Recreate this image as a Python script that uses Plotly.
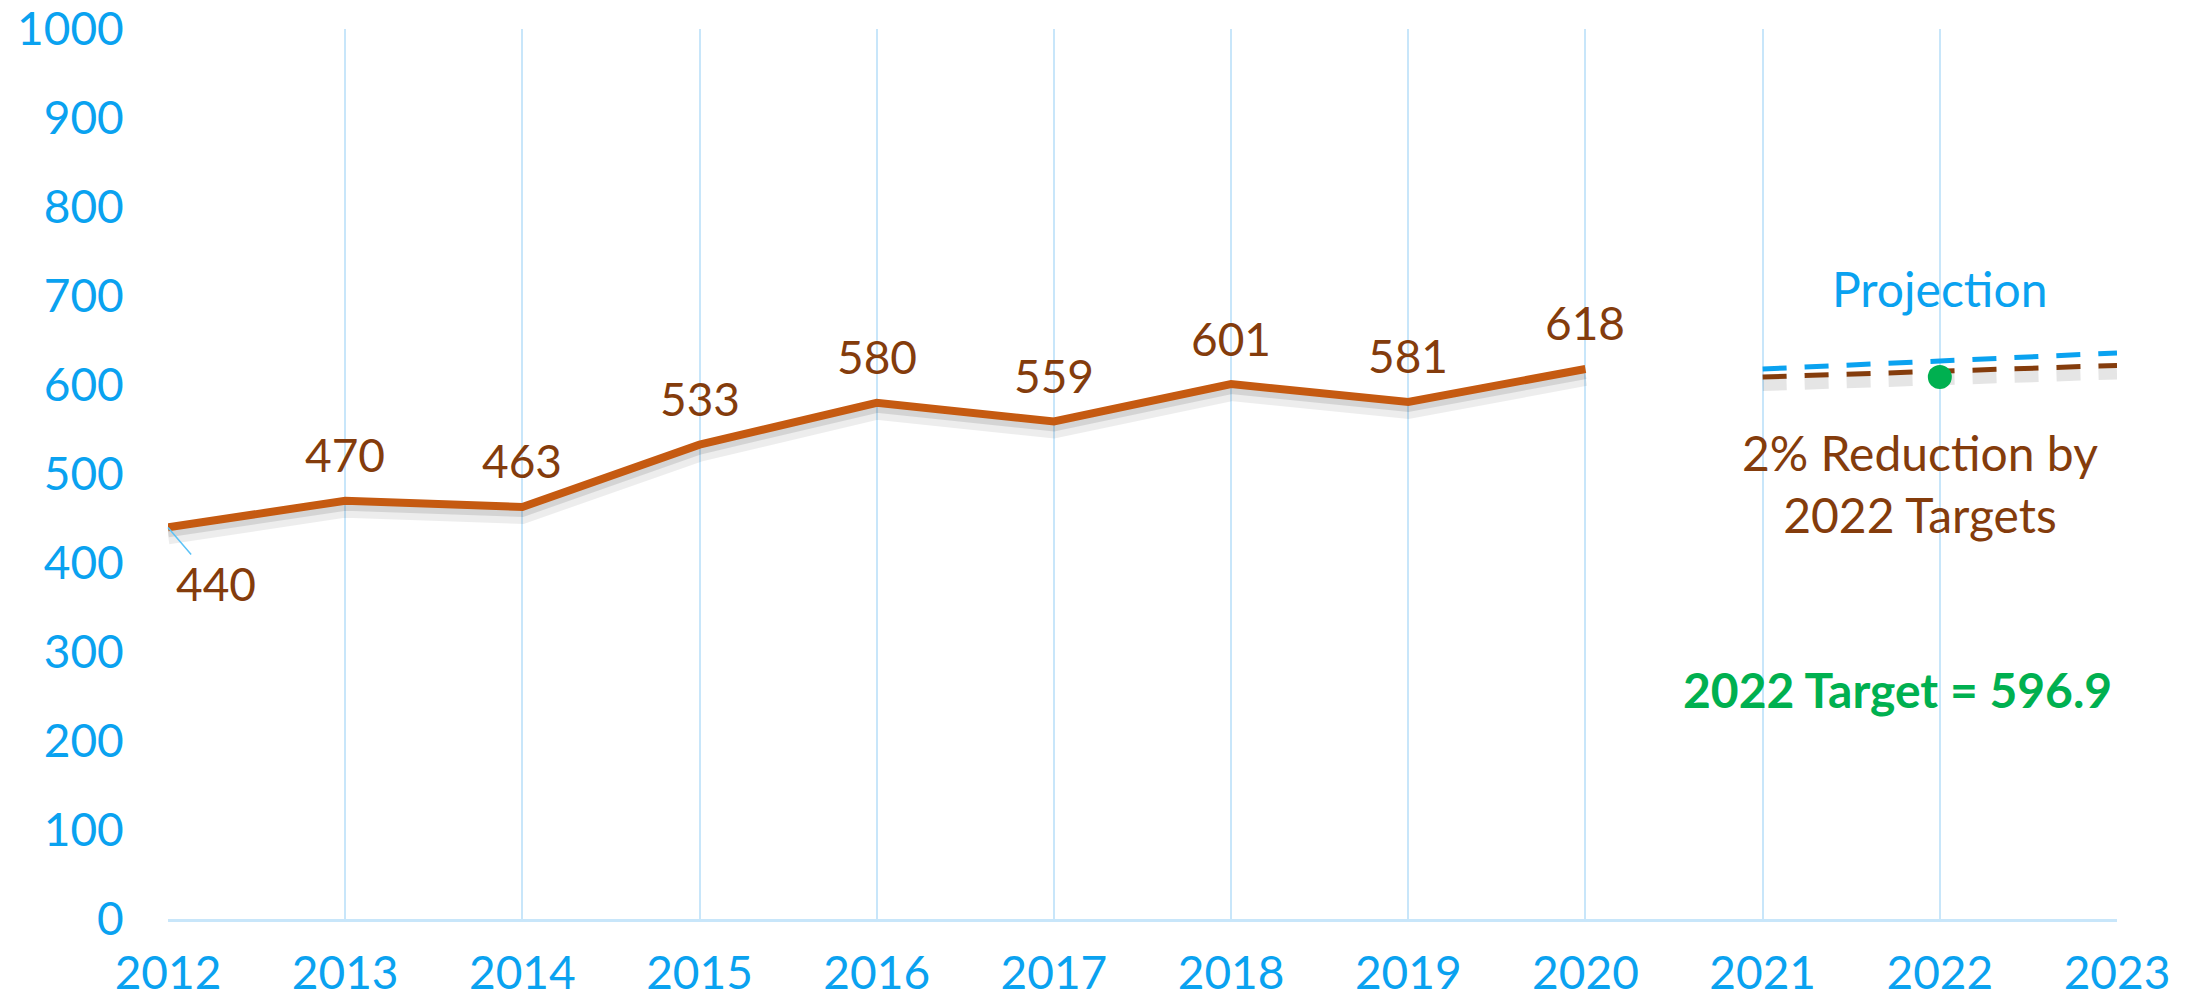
import plotly.graph_objects as go

years = [2012, 2013, 2014, 2015, 2016, 2017, 2018, 2019, 2020]
values = [440, 470, 463, 533, 580, 559, 601, 581, 618]
proj_years = [2021, 2022, 2023]
projection = [618, 627, 636]
reduction = [609, 615, 622]
target_year = [2022]
target_value = [609]
x_ticks = list(range(2012, 2024))
y_ticks = list(range(0, 1001, 100))

BLUE = "#0AA2F0"
ORANGE = "#C55A11"
BROWN = "#843C0C"
GREEN = "#00B050"
GRID = "#C8E6FA"
FONT = "Lato"

fig = go.Figure()

# soft shadows
shadow_off = 9
fig.add_trace(go.Scatter(x=years, y=[v - shadow_off for v in values], mode="lines",
                         line=dict(color="rgba(0,0,0,0.07)", width=18), hoverinfo="skip", showlegend=False))
fig.add_trace(go.Scatter(x=years, y=[v - shadow_off / 2 for v in values], mode="lines",
                         line=dict(color="rgba(0,0,0,0.10)", width=12), hoverinfo="skip", showlegend=False))
fig.add_trace(go.Scatter(x=proj_years, y=[v - shadow_off for v in reduction], mode="lines",
                         line=dict(color="rgba(0,0,0,0.10)", width=12, dash="24px,18px"),
                         hoverinfo="skip", showlegend=False))

fig.add_trace(go.Scatter(x=years, y=values, mode="lines",
                         line=dict(color=ORANGE, width=8), showlegend=False))
fig.add_trace(go.Scatter(x=proj_years, y=projection, mode="lines",
                         line=dict(color=BLUE, width=5, dash="24px,18px"), showlegend=False))
fig.add_trace(go.Scatter(x=proj_years, y=reduction, mode="lines",
                         line=dict(color=BROWN, width=5, dash="24px,18px"), showlegend=False))
fig.add_trace(go.Scatter(x=target_year, y=target_value, mode="markers",
                         marker=dict(color=GREEN, size=24), showlegend=False))

# data labels
for i, (x, v) in enumerate(zip(years, values)):
    if i == 0:
        fig.add_annotation(x=x, y=v, text=str(v), showarrow=True, arrowhead=0,
                           arrowcolor="#5BC2F7", arrowwidth=1.5, ax=48, ay=56, standoff=0,
                           font=dict(family=FONT, size=46, color=BROWN))
    else:
        fig.add_annotation(x=x, y=v, text=str(v), showarrow=False, yshift=46,
                           font=dict(family=FONT, size=46, color=BROWN))

fig.add_annotation(x=2022, y=708, text="Projection", showarrow=False,
                   font=dict(family=FONT, size=48, color=BLUE))
fig.add_annotation(x=2021.89, y=489, text="2% Reduction by<br>2022 Targets", showarrow=False,
                   font=dict(family=FONT, size=48, color=BROWN))
fig.add_annotation(x=2021.76, y=258, text="<b>2022 Target = 596.9</b>", showarrow=False,
                   font=dict(family=FONT, size=48, color=GREEN))

fig.update_layout(
    width=2196, height=1001,
    margin=dict(l=168, r=79, t=29, b=82, autoexpand=False),
    plot_bgcolor="white", paper_bgcolor="white",
    font=dict(family=FONT, size=46, color=BLUE),
    xaxis=dict(range=[2012, 2023], tickvals=x_ticks, ticktext=[str(t) for t in x_ticks],
               showgrid=True, gridcolor=GRID, gridwidth=2, zeroline=False,
               showline=True, linecolor=GRID, linewidth=3, automargin=False,
               ticks="outside", ticklen=12, tickcolor="rgba(0,0,0,0)",
               tickfont=dict(family=FONT, size=46, color=BLUE)),
    yaxis=dict(range=[0, 1000], tickvals=y_ticks, showgrid=False, zeroline=False,
               showline=False, ticks="outside", ticklen=34, tickcolor="rgba(0,0,0,0)",
               automargin=False,
               tickfont=dict(family=FONT, size=46, color=BLUE)),
)

fig.write_html("out.html", config={"displayModeBar": False},
               post_script="document.body.style.margin='0';document.body.style.overflow='hidden';")
